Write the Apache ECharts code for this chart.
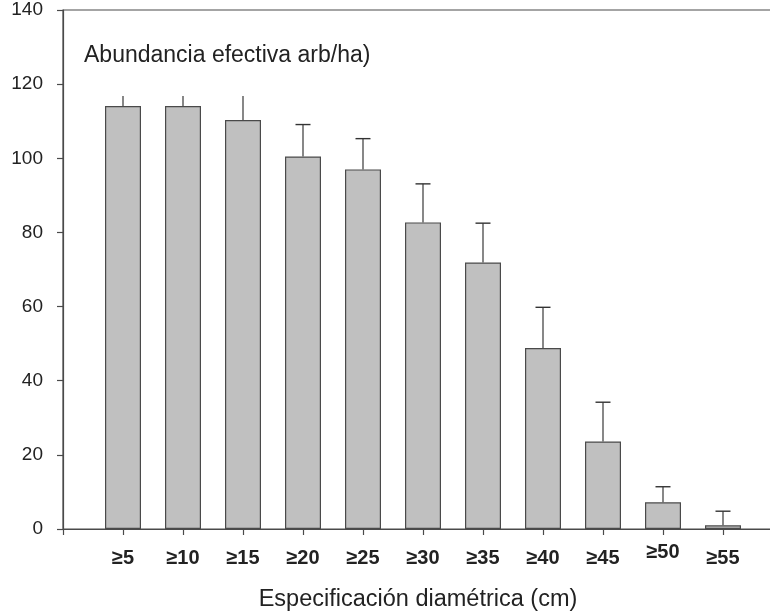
<!DOCTYPE html>
<html>
<head>
<meta charset="utf-8">
<script src="https://cdn.jsdelivr.net/npm/echarts@6/dist/echarts.min.js"></script>
<style>html,body{margin:0;padding:0;background:#fff;}#c{width:770px;height:615px;}</style>
</head>
<body>
<div id="c"></div>
<script>
const categories = ['≥5','≥10','≥15','≥20','≥25','≥30','≥35','≥40','≥45','≥50','≥55'];
const abundance = [114.1, 114.1, 110.3, 100.5, 97.0, 82.7, 71.9, 48.8, 23.6, 7.2, 1.0];
const errorUpper = [116.8, 116.8, 116.8, 109.1, 105.3, 93.1, 82.5, 59.8, 34.2, 11.4, 4.8];
const errorClip = 116.8; // error bars cut off at this level in the original (no caps)
const yTicks = [0, 20, 40, 60, 80, 100, 120, 140];

const axisCats = [''].concat(categories, ['']);
const barData = [null].concat(abundance, [null]);
const errData = abundance.map((v, i) => [i + 1, v, errorUpper[i]]);

const chart = echarts.init(document.getElementById('c'), null, {renderer: 'canvas'});
const font = 'Arial, "Liberation Sans", Helvetica, sans-serif';
chart.setOption({
  animation: false,
  backgroundColor: '#ffffff',
  grid: {left: 63, top: 10, right: -13, bottom: 86, outerBoundsMode: 'none', containLabel: false,
         show: true, borderColor: '#4a4a4a', borderWidth: 1.2, backgroundColor: 'transparent'},
  xAxis: {
    type: 'category',
    data: axisCats,
    boundaryGap: false,
    axisLine: {lineStyle: {color: '#4a4a4a', width: 1.2}},
    axisTick: {show: true, inside: false, length: 6, interval: 0, lineStyle: {color: '#4a4a4a', width: 1.2}},
    axisLabel: {
      interval: 0, margin: 19, fontSize: 20, fontWeight: 'bold', color: '#222', fontFamily: font,
      formatter: function (v) { return v === '≥50' ? '{up|' + v + '}' : v; },
      rich: {up: {fontSize: 20, fontWeight: 'bold', color: '#222', fontFamily: font, lineHeight: 9}}
    },
    splitLine: {show: false}
  },
  yAxis: {
    type: 'value',
    min: yTicks[0], max: yTicks[yTicks.length - 1], interval: 20,
    axisLine: {show: true, lineStyle: {color: '#4a4a4a', width: 1.2}},
    axisTick: {show: true, inside: false, length: 6, lineStyle: {color: '#4a4a4a', width: 1.2}},
    axisLabel: {margin: 20, fontSize: 19, color: '#222', fontFamily: font},
    splitLine: {show: false}
  },
  graphic: [
    {type: 'text', x: 84, y: 56, style: {text: 'Abundancia efectiva arb/ha)', fontSize: 23, fill: '#222', fontFamily: font, textVerticalAlign: 'middle'}},
    {type: 'text', x: 418, y: 600, style: {text: 'Especificación diamétrica (cm)', fontSize: 23.5, fill: '#222', fontFamily: font, textAlign: 'center', textVerticalAlign: 'middle'}}
  ],
  series: [
    {
      type: 'bar',
      data: barData,
      barWidth: 36,
      itemStyle: {color: '#c0c0c0', borderColor: '#4a4a4a', borderWidth: 1.2},
      z: 3
    },
    {
      type: 'custom',
      data: errData,
      z: 2,
      renderItem: function (params, api) {
        const x = api.value(0);
        const base = api.coord([x, api.value(1)]);
        const top = api.coord([x, api.value(2)]);
        const children = [{
          type: 'line',
          shape: {x1: base[0], y1: base[1], x2: top[0], y2: top[1]},
          style: {stroke: '#555', lineWidth: 1.4}
        }];
        if (api.value(2) < errorClip) {
          children.push({
            type: 'line',
            shape: {x1: top[0] - 7.5, y1: top[1], x2: top[0] + 7.5, y2: top[1]},
            style: {stroke: '#333', lineWidth: 1.4}
          });
        }
        return {type: 'group', children: children};
      }
    }
  ]
});
</script>
</body>
</html>
